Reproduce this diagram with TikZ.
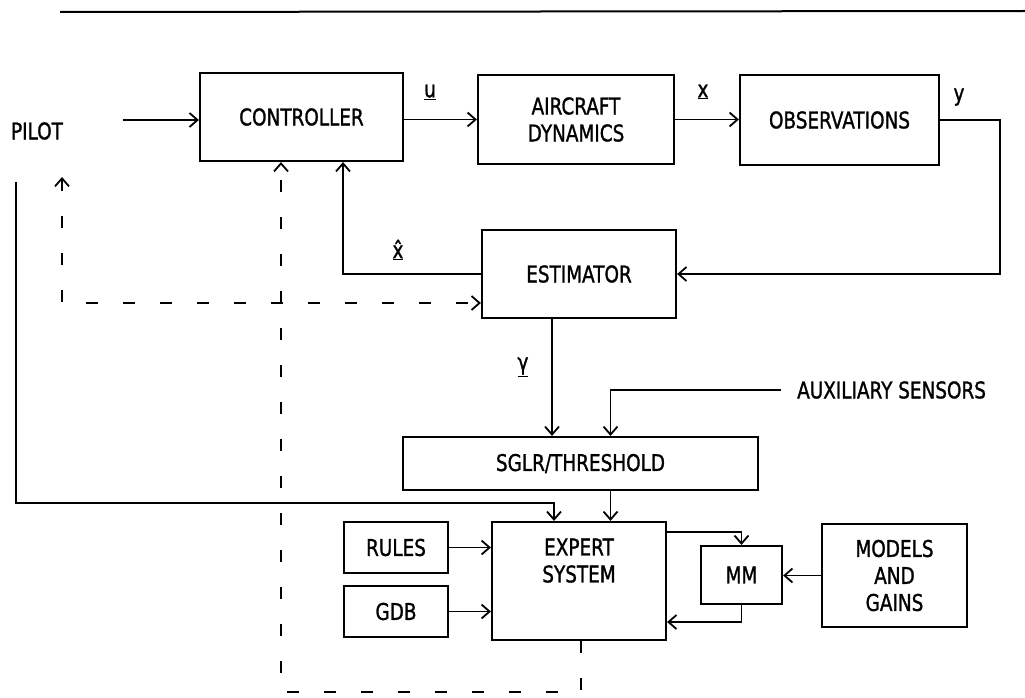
\documentclass[tikz,border=0pt]{standalone}
\usepackage{fontspec}
\setmainfont{DejaVu Sans}[FakeStretch=0.8, FakeBold=1.2]
\usetikzlibrary{arrows.meta, calc, positioning}

\begin{document}
\begin{tikzpicture}[x=1pt, y=-1pt,
  blk/.style={draw, line width=2.2pt, inner sep=0pt, align=center,
    font=\fontsize{23}{27}\selectfont},
  lbl/.style={inner sep=0pt, font=\fontsize{23}{27}\selectfont},
  tip/.tip={Straight Barb[length=8pt, width=14pt, line width=1.8pt]},
  sig/.style={line width=1.8pt, -tip},
  dsh/.style={line width=1.8pt, dash pattern=on 12pt off 25pt}]
\useasboundingbox (0,0) rectangle (1025,698);

% regla superior
\draw[line width=2pt] (60,12) -- (1025,11);

% lazo principal
\node[blk, minimum width=203pt, minimum height=88pt] (ctrl) at (301.5,117) {CONTROLLER};
\node[blk, minimum width=196pt, minimum height=89pt] (acft) at (576,119.5) {AIRCRAFT\\DYNAMICS};
\node[blk, minimum width=199pt, minimum height=90pt] (obs) at (839.5,120) {OBSERVATIONS};
\node[blk, minimum width=194pt, minimum height=88pt] (est) at (579,274) {ESTIMATOR};

% deteccion
\node[blk, minimum width=355pt, minimum height=53pt] (sglr) at (580.5,463.5) {SGLR/THRESHOLD};
\node[blk, minimum width=174pt, minimum height=118pt] (exp) at (579,581) {EXPERT\\SYSTEM\\[14pt]};
\node[blk, minimum width=104pt, minimum height=51pt] (rules) at (396,547.5) {RULES};
\node[blk, minimum width=104pt, minimum height=51pt] (gdb) at (396,611.5) {GDB};
\node[blk, minimum width=81pt, minimum height=58pt] (mm) at (741.5,575) {MM};
\node[blk, minimum width=145pt, minimum height=103pt] (models) at (894.5,575.5) {MODELS\\AND\\GAINS};

% textos sueltos
\node[lbl] (pilot) at (37,131) {PILOT};
\node[lbl, anchor=west] (aux) at (797,390) {AUXILIARY SENSORS};
\node[lbl] (lu) at (430,92) {\underline{u}};
\node[lbl] (lx) at (703,92) {\underline{x}};
\node[lbl] (ly) at (959,97) {y};
\node[lbl] (lxh) at (398,250) {\underline{\^{x}}};
\node[lbl] (lg) at (523,367) {\underline{γ}};

% puntos de paso
\coordinate (pin) at (123,120);
\coordinate (pdown) at (16,182);
\coordinate (pbot) at (16,503);
\coordinate (pup) at (62,177);
\coordinate (pcorner) at (62,303);
\coordinate (dcorner) at (281,692);

% flechas continuas
\draw[sig] (pin) -- (pin -| ctrl.west);
\draw[sig] (acft.west -| ctrl.east) -- (acft.west);
\draw[sig] (acft.east) -- (acft.east -| obs.west);
\draw[sig] (obs.east) -- ++(60,0) |- (est.east);
\draw[sig] (est.west) -| ([xshift=41.5pt]ctrl.south);
\draw[sig] ([xshift=-27pt]est.south) -- ([xshift=-27pt]est.south |- sglr.north);
\draw[sig] ([xshift=-16pt]aux.west) -| ([xshift=30pt]sglr.north);
\draw[sig] ([xshift=30pt]sglr.south) -- ([xshift=30pt]sglr.south |- exp.north);
\draw[sig] (pdown) -- (pbot) -| ([xshift=-25pt]exp.north);
\draw[sig] (rules.east) -- (rules.east -| exp.west);
\draw[sig] (gdb.east) -- (gdb.east -| exp.west);
\draw[sig] ([yshift=49pt]exp.east) -| (mm.north);
\draw[sig] (mm.south) |- ([yshift=-41pt]exp.east);
\draw[sig] (models.west) -- (models.west -| mm.east);

% flechas a trazos
\draw[dsh, tip-tip] (pup) -- (pcorner) -- (pcorner -| est.west);
\draw[dsh, -tip] ([xshift=2pt]exp.south) |- (dcorner) -- (dcorner |- ctrl.south);
\end{tikzpicture}
\end{document}
